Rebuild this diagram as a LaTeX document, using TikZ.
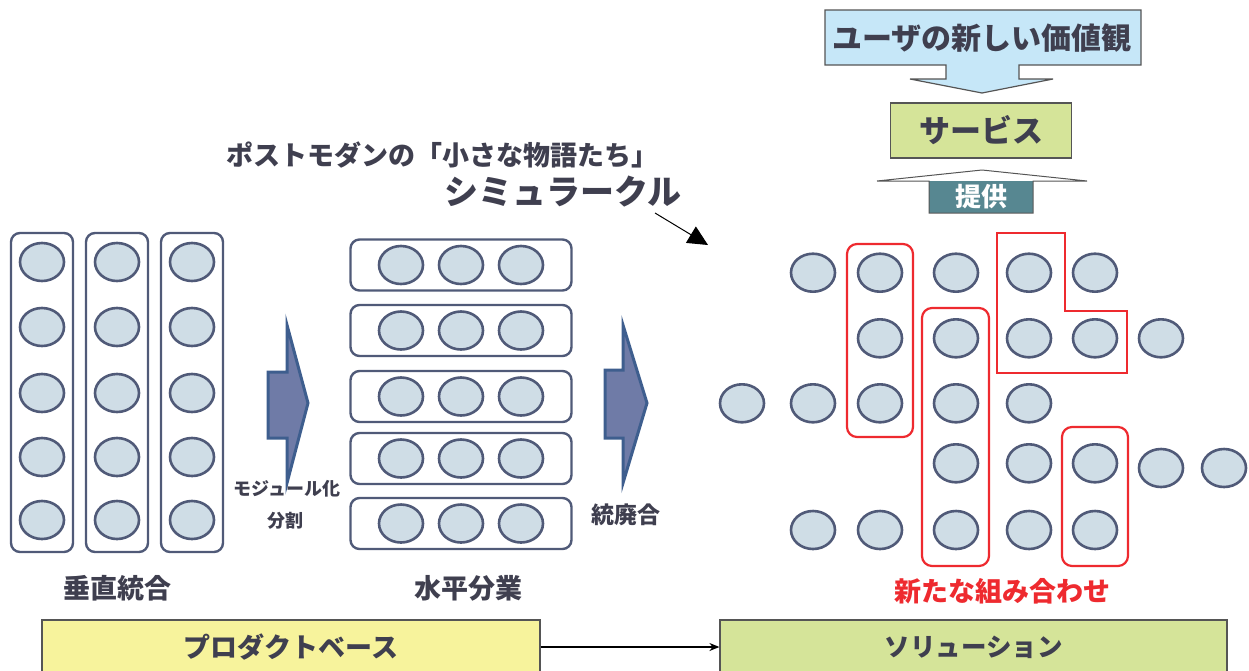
\documentclass[tikz,border=0pt]{standalone}
\usepackage{fontspec}
\newfontfamily\jp{Noto Sans CJK JP}
\usetikzlibrary{shapes.geometric,arrows.meta}
\definecolor{ovalfill}{HTML}{CFDDE6}
\definecolor{ovalline}{HTML}{505A78}
\definecolor{txt}{HTML}{3F3F4F}
\definecolor{redc}{HTML}{EE2A2F}
\definecolor{chevf}{HTML}{6F7BA7}
\definecolor{chevd}{HTML}{3E5E8E}
\definecolor{skyb}{HTML}{C6E7F8}
\definecolor{lgreen}{HTML}{D5E499}
\definecolor{lyellow}{HTML}{F7F39C}
\definecolor{teal2}{HTML}{578791}
\definecolor{boxline}{HTML}{555555}
\tikzset{
  oval/.style={ellipse, draw=ovalline, fill=ovalfill, line width=2.6pt, minimum width=44pt, minimum height=38pt, inner sep=0pt},
  grpbox/.style={draw=ovalline, line width=2.4pt, rounded corners=9pt, inner sep=0pt},
  redgrp/.style={draw=redc, line width=2.2pt, rounded corners=10pt},
  redL/.style={draw=redc, line width=2.2pt},
  chev/.style={draw=chevd, fill=chevf, line width=3pt, line join=miter},
  lbl/.style={font=\jp\bfseries\fontsize{27}{30}\selectfont, text=txt, inner sep=0pt},
  small/.style={font=\jp\bfseries\fontsize{18}{22}\selectfont, text=txt, inner sep=0pt},
  bigbox/.style={draw=boxline, line width=1.2pt, minimum height=54pt, inner sep=0pt, font=\jp\bfseries\fontsize{27}{30}\selectfont, text=txt},
}
\begin{document}
\begin{tikzpicture}[x=1pt,y=-1pt]
\useasboundingbox (0,0) rectangle (1249,670);

% left: vertical integration
\foreach \c/\x in {1/42,2/117,3/192}{
  \node[grpbox, minimum width=62pt, minimum height=319pt] (L\c) at (\x,392.5) {};
  \foreach \r/\y in {1/262,2/327,3/393,4/457,5/520}
    \node[oval] (L\c-\r) at (\x,\y) {};
}
% middle: horizontal division
\foreach \r/\y in {1/265,2/330.5,3/396.5,4/458.5,5/523.5}{
  \node[grpbox, minimum width=221pt, minimum height=51pt] (M\r) at (461,\y) {};
  \foreach \c/\x in {1/401,2/461,3/521}
    \node[oval] (M\r-\c) at (\x,\y) {};
}
% right: scattered ovals
\foreach \i/\x in {1/813,2/880,3/956,4/1029,5/1095} \node[oval] (Ra\i) at (\x,272.7) {};
\foreach \i/\x in {1/880,2/956,3/1029,4/1095,5/1161} \node[oval] (Rb\i) at (\x,338.3) {};
\foreach \i/\x in {1/742,2/813,3/880,4/956,5/1029} \node[oval] (Rc\i) at (\x,403.3) {};
\foreach \i/\x/\y in {1/956/463.3,2/1029/463.3,3/1095/463.3,4/1161/468,5/1224/468} \node[oval] (Rd\i) at (\x,\y) {};
\foreach \i/\x in {1/813,2/880,3/956,4/1029,5/1095} \node[oval] (Re\i) at (\x,530) {};

% red groupings
\draw[redgrp] (847,244) rectangle (913,437);
\draw[redgrp] (922,308) rectangle (989,566);
\draw[redgrp] (1062,427) rectangle (1128,566);
\draw[redL] (997,233) -- (1065,233) -- (1065,311) -- (1127,311) -- (1127,373) -- (997,373) -- cycle;

% chevron arrows
\draw[chev] (268,372) -- (287,372) -- (287,325) -- (308,403) -- (287,483) -- (287,438) -- (268,438) -- cycle;
\draw[chev] (605,370) -- (623,370) -- (623,325) -- (647,403) -- (623,483) -- (623,438) -- (605,438) -- cycle;
\node[small] (mod) at (287,489) {モジュール化};
\node[small] (div) at (285,521) {分割};
\node[lbl, font=\jp\bfseries\fontsize{23}{26}\selectfont] (tohai) at (626,515) {統廃合};

% labels
\node[lbl] (vert) at (117,588) {垂直統合};
\node[lbl] (horiz) at (468,588) {水平分業};
\node[lbl, text=redc] (newcomb) at (1002,591) {新たな組み合わせ};

% postmodern text
\node[lbl, font=\jp\bfseries\fontsize{27}{30}\selectfont] (pm) at (442,155) {ポストモダンの「小さな物語たち」};
\node[lbl, font=\jp\bfseries\fontsize{34}{38}\selectfont] (sim) at (563,192) {シミュラークル};
\coordinate (simS) at (655,213);
\coordinate (simE) at (708,245);
\draw[line width=1pt, -{Triangle[length=20pt,width=19pt]}] (simS) -- (simE);

% top: user values -> service
\draw[draw=boxline, line width=1.2pt, fill=skyb, line join=miter]
  (825,10) -- (1141,10) -- (1141,65) -- (1019,65) -- (1019,79) -- (1053,79) -- (982,93) -- (910,79) -- (946,79) -- (946,65) -- (825,65) -- cycle;
\node[lbl, font=\jp\bfseries\fontsize{30}{33}\selectfont] (user) at (982,38) {ユーザの新しい価値観};
\node[draw=boxline, line width=1.2pt, fill=lgreen, minimum width=181pt, minimum height=55pt, inner sep=0pt,
      font=\jp\bfseries\fontsize{31}{34}\selectfont, text=txt] (svc) at (981,130.5) {サービス};
\fill[teal2] (929,181) rectangle (1033,213);
\draw[draw=boxline, line width=1pt, line join=miter]
  (929,181) -- (877,181) -- (982,170) -- (1087,181) -- (1033,181) -- (1033,213) -- (929,213) -- cycle;
\node[font=\jp\bfseries\fontsize{26}{28}\selectfont, text=white, inner sep=0pt] (teikyo) at (981,197) {提供};

% bottom boxes
\node[bigbox, fill=lyellow, minimum width=498pt] (prod) at (291,647) {プロダクトベース};
\node[bigbox, fill=lgreen, minimum width=507pt, font=\jp\bfseries\fontsize{25.5}{30}\selectfont] (sol) at (973.5,647) {ソリューション};
\draw[line width=1.5pt, -{Stealth[length=10pt,width=8pt]}] (prod.east) -- (sol.west);
\end{tikzpicture}
\end{document}
